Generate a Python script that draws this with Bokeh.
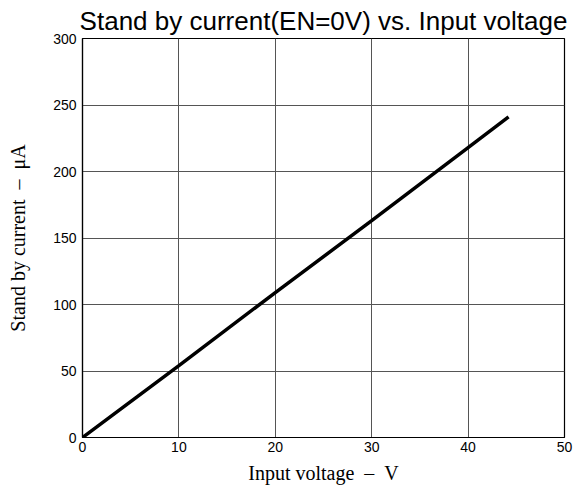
from bokeh.plotting import figure
from bokeh.models import Range1d, FixedTicker, Title
from bokeh.embed import file_html
from bokeh.resources import INLINE

# Data
voltage = [0, 10, 20, 30, 40, 44.2]
current = [0, 54, 109, 163, 218, 241]
x_ticks = [0, 10, 20, 30, 40, 50]
y_ticks = [0, 50, 100, 150, 200, 250, 300]

NB = "\u00a0"

p = figure(width=580, height=490, output_backend="svg", toolbar_location=None,
           x_range=Range1d(0, 50), y_range=Range1d(0, 300),
           min_border_left=82, min_border_right=16, min_border_top=38, min_border_bottom=53)
p.title = None
p.add_layout(Title(text="Stand by current(EN=0V) vs. Input voltage", align="center",
                   text_font="Liberation Sans", text_font_size="26px", text_font_style="normal",
                   text_color="black", standoff=6), "above")

p.line(voltage, current, line_color="black", line_width=3.5)

p.outline_line_color = "black"
p.outline_line_width = 1.2
p.background_fill_color = "white"
p.border_fill_color = "white"

for ax in (p.xaxis[0], p.yaxis[0]):
    ax.major_tick_in = 0
    ax.major_tick_out = 0
    ax.minor_tick_in = 0
    ax.minor_tick_out = 0
    ax.axis_line_color = "black"
    ax.axis_line_width = 1.2
    ax.major_label_text_font = "Liberation Sans"
    ax.major_label_text_font_size = "14px"
    ax.major_label_text_color = "black"
    ax.axis_label_text_font = "Liberation Serif"
    ax.axis_label_text_font_size = "20px"
    ax.axis_label_text_font_style = "normal"
    ax.axis_label_text_color = "black"

p.xaxis[0].ticker = FixedTicker(ticks=x_ticks)
p.yaxis[0].ticker = FixedTicker(ticks=y_ticks)
p.xaxis[0].major_label_standoff = 4
p.yaxis[0].major_label_standoff = 6
p.xaxis[0].axis_label = "Input voltage" + NB * 2 + "\u2013" + NB * 2 + "V"
p.yaxis[0].axis_label = "Stand by current" + NB * 2 + "\u2013" + NB * 2 + "\u03bcA"
p.xaxis[0].axis_label_standoff = 7
p.yaxis[0].axis_label_standoff = 21

p.xgrid[0].ticker = FixedTicker(ticks=x_ticks)
p.ygrid[0].ticker = FixedTicker(ticks=y_ticks)
for g in (p.xgrid[0], p.ygrid[0]):
    g.grid_line_color = "#555555"
    g.grid_line_width = 1
    g.grid_line_alpha = 1

open("out.html", "w").write(file_html(p, INLINE))
